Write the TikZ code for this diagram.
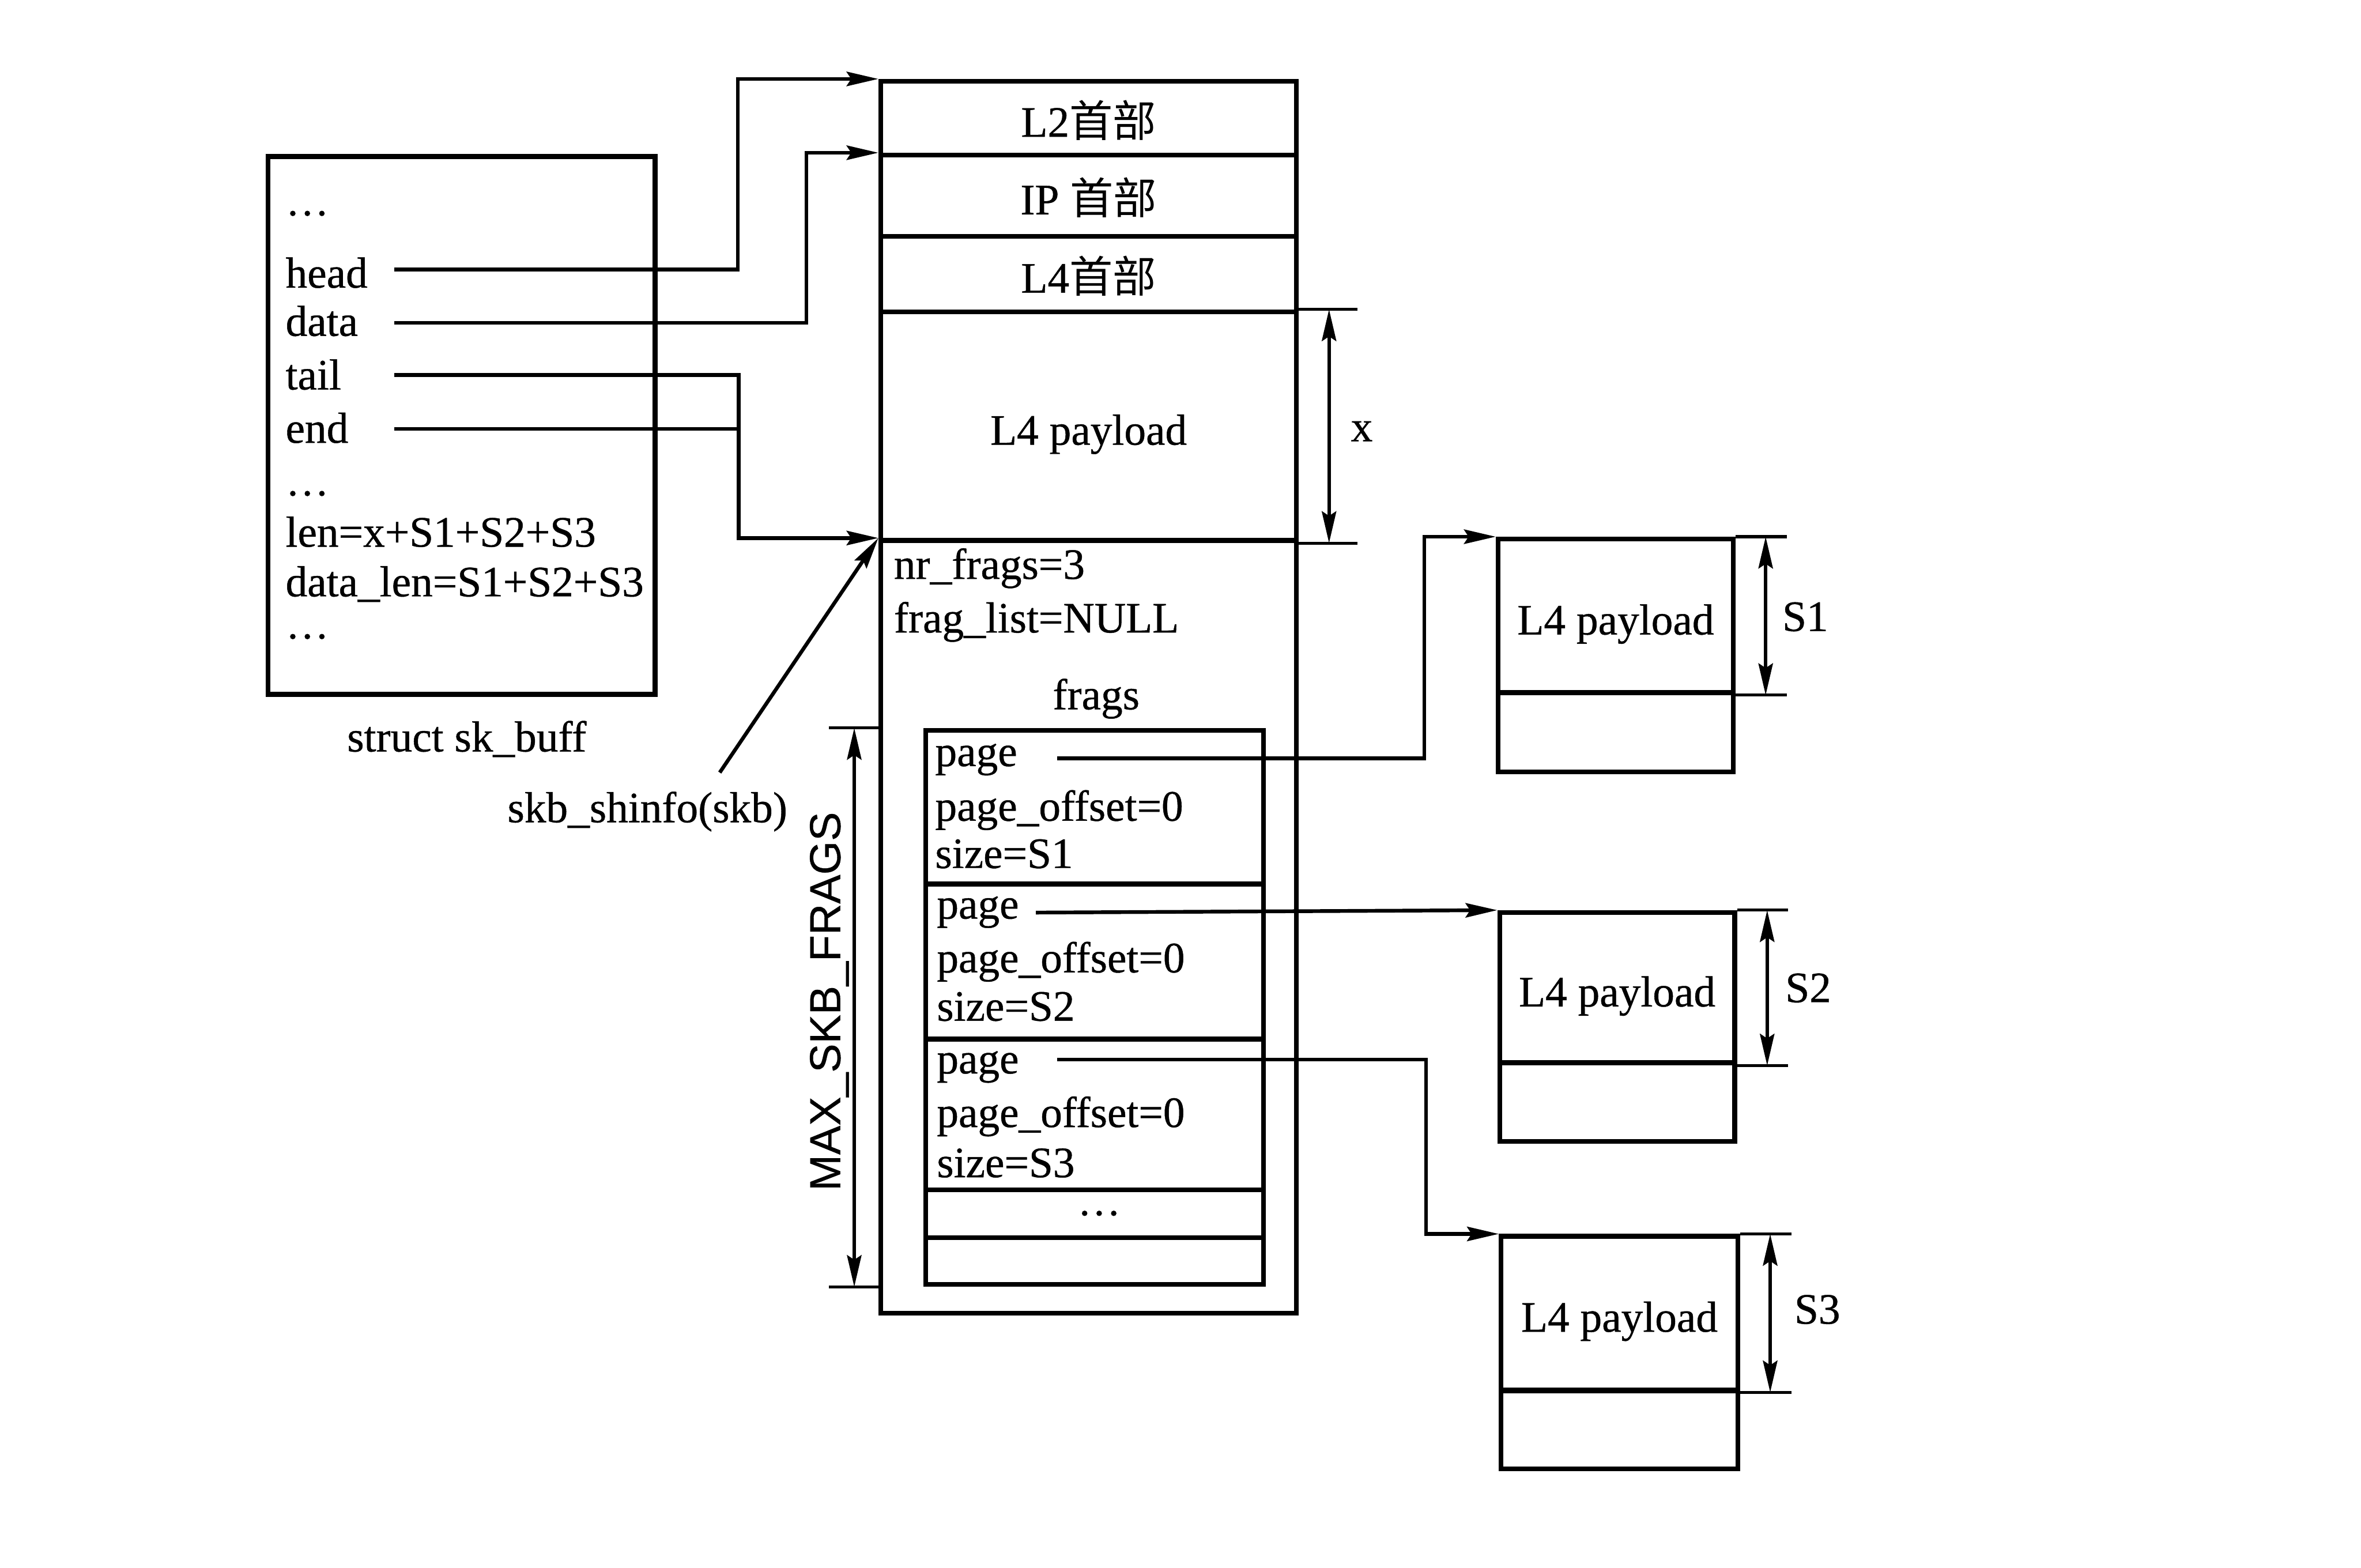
\documentclass[tikz,border=0pt]{standalone}
\usepackage{fontspec}
\setmainfont{Liberation Serif}[FakeBold=0.6]
\setsansfont{Liberation Sans}[FakeBold=0.5]
\newfontfamily\cjk{Noto Sans CJK SC}
\usetikzlibrary{arrows.meta,calc}
\begin{document}
\begin{tikzpicture}[x=0.01cm,y=-0.01cm,
  font=\fontsize{8.2pt}{9.8pt}\selectfont,
  box/.style={draw, line width=0.9pt, rectangle, inner sep=0pt,
    text height=0.78em, text depth=0.08em},
  lbl/.style={inner sep=0pt},
  conn/.style={line width=0.7pt},
  tipa/.tip={Stealth[length=0.21cm,width=0.095cm,inset=0.03cm]},
  arr/.style={conn, -{tipa}},
  darr/.style={line width=0.7pt, {tipa}-{tipa}},
  ext/.style={line width=0.55pt}]
\useasboundingbox (0,0) rectangle (1568,1041);

% ---- struct sk_buff ----
\node[box, minimum width=2.57cm, minimum height=3.57cm] (skb) at (306.5,282.5) {};
\node[lbl, anchor=base west] (d1) at (189,143) {\ldots};
\node[lbl, anchor=base west] (fhead) at (189,191) {head};
\node[lbl, anchor=base west] (fdata) at (189,223) {data};
\node[lbl, anchor=base west] (ftail) at (189,258.6) {tail};
\node[lbl, anchor=base west] (fend) at (189,294) {end};
\node[lbl, anchor=base west] (d2) at (189,329) {\ldots};
\node[lbl, anchor=base west] (flen) at (189,363) {len=x+S1+S2+S3};
\node[lbl, anchor=base west] (fdlen) at (189,396) {data\_len=S1+S2+S3};
\node[lbl, anchor=base west] (d3) at (189,424) {\ldots};
\node[lbl, anchor=base] (skbname) at (310,499) {struct sk\_buff};

% ---- main buffer ----
\node[box, minimum width=2.76cm, minimum height=0.49cm] (L2) at (723,78.5) {L2{\cjk 首部}};
\node[box, minimum width=2.76cm, minimum height=0.54cm] (IP) at (723,130) {IP {\cjk 首部}};
\node[box, minimum width=2.76cm, minimum height=0.50cm] (L4h) at (723,182) {L4{\cjk 首部}};
\node[box, minimum width=2.76cm, minimum height=1.52cm] (L4p) at (723,283) {L4 payload};
\node[box, minimum width=2.76cm, minimum height=5.13cm] (shi) at (723,615.5) {};

\node[lbl, anchor=base west] (nrf) at (593,384.4) {nr\_frags=3};
\node[lbl, anchor=base west] (fl) at (593,420) {frag\_list=NULL};
\node[lbl, anchor=base] (fragsl) at (728,471) {frags};

% ---- frags array ----
\node[box, minimum width=2.24cm, minimum height=1.02cm] (fr1) at (727,536) {};
\node[box, minimum width=2.24cm, minimum height=1.03cm] (fr2) at (727,638.5) {};
\node[box, minimum width=2.24cm, minimum height=1.00cm] (fr3) at (727,740) {};
\node[box, minimum width=2.24cm, minimum height=0.32cm] (frd) at (727,806) {};
\node[box, minimum width=2.24cm, minimum height=0.31cm] (fre) at (727,837.5) {};
\node[lbl, anchor=base] (dd) at (730,807) {\ldots};

\node[lbl, anchor=base west] (pg1) at (620.4,508.7) {page};
\node[lbl, anchor=base west] (po1) at (620.4,545) {page\_offset=0};
\node[lbl, anchor=base west] (sz1) at (620.4,576.4) {size=S1};
\node[lbl, anchor=base west] (pg2) at (621.5,610) {page};
\node[lbl, anchor=base west] (po2) at (621.5,645.7) {page\_offset=0};
\node[lbl, anchor=base west] (sz2) at (621.5,677.8) {size=S2};
\node[lbl, anchor=base west] (pg3) at (621.5,712.8) {page};
\node[lbl, anchor=base west] (po3) at (621.5,748.4) {page\_offset=0};
\node[lbl, anchor=base west] (sz3) at (621.5,781.7) {size=S3};

% ---- page buffers ----
\node[box, minimum width=1.56cm, minimum height=1.02cm] (B1t) at (1073,409) {L4 payload};
\node[box, minimum width=1.56cm, minimum height=0.525cm] (B1b) at (1073,486.25) {};
\node[box, minimum width=1.56cm, minimum height=1.00cm] (B2t) at (1074,656) {L4 payload};
\node[box, minimum width=1.56cm, minimum height=0.524cm] (B2b) at (1074,731.8) {};
\node[box, minimum width=1.57cm, minimum height=1.02cm] (B3t) at (1075.5,872) {L4 payload};
\node[box, minimum width=1.57cm, minimum height=0.52cm] (B3b) at (1075.5,949.5) {};

% ---- pointers from sk_buff ----
\coordinate (headp) at (262,179);
\coordinate (datap) at (262,214.4);
\coordinate (tailp) at (262,249);
\coordinate (endp) at (262,284.8);
\draw[arr] (headp) -- ++(228,0) |- (L2.north west);
\draw[arr] (datap) -- ++(273.6,0) |- (IP.north west);
\draw[arr] (tailp) -- ++(228.5,0) |- (shi.north west);
\draw[conn] (endp) -- ++(228.5,0);

% ---- skb_shinfo ----
\node[lbl, anchor=base] (shl) at (430,546) {skb\_shinfo(skb)};
\coordinate (shs) at (478,513);
\draw[arr] (shs) -- (shi.north west);

% ---- frag page pointers ----
\coordinate (p1) at (702,503.5);
\coordinate (p2) at (688,606);
\coordinate (p3) at (702,703.6);
\draw[arr] (p1) -- ++(244,0) |- (B1t.north west);
\draw[arr] (p2) -- (B2t.north west);
\draw[arr] (p3) -- ++(245,0) |- (B3t.north west);

% ---- dimension x ----
\draw[ext] (L4p.north east) -- ++(39,0);
\draw[ext] (L4p.south east) -- ++(39,0);
\draw[darr] ($(L4p.north east)+(20,0)$) -- ($(L4p.south east)+(20,0)$);
\node[lbl, anchor=base west] (xl) at (896.5,293) {x};

% ---- dimensions S1..S3 ----
\draw[ext] (B1t.north east) -- ++(34,0);
\draw[ext] (B1t.south east) -- ++(34,0);
\draw[darr] ($(B1t.north east)+(20,0)$) -- ($(B1t.south east)+(20,0)$);
\node[lbl, anchor=base west] (s1l) at (1183,419) {S1};

\draw[ext] (B2t.north east) -- ++(34,0);
\draw[ext] (B2t.south east) -- ++(34,0);
\draw[darr] ($(B2t.north east)+(20,0)$) -- ($(B2t.south east)+(20,0)$);
\node[lbl, anchor=base west] (s2l) at (1185,665.5) {S2};

\draw[ext] (B3t.north east) -- ++(34,0);
\draw[ext] (B3t.south east) -- ++(34,0);
\draw[darr] ($(B3t.north east)+(20,0)$) -- ($(B3t.south east)+(20,0)$);
\node[lbl, anchor=base west] (s3l) at (1191,879) {S3};

% ---- MAX_SKB_FRAGS ----
\draw[ext] (shi.west |- fr1.north) -- ++(-33,0);
\draw[ext] (shi.west |- fre.south) -- ++(-33,0);
\draw[darr] ($(shi.west |- fr1.north)+(-16,0)$) -- ($(shi.west |- fre.south)+(-16,0)$);
\node[lbl, anchor=base, rotate=90, font=\fontsize{8.2pt}{9.8pt}\sffamily] (maxl) at (558,665) {MAX\_SKB\_FRAGS};
\end{tikzpicture}
\end{document}
